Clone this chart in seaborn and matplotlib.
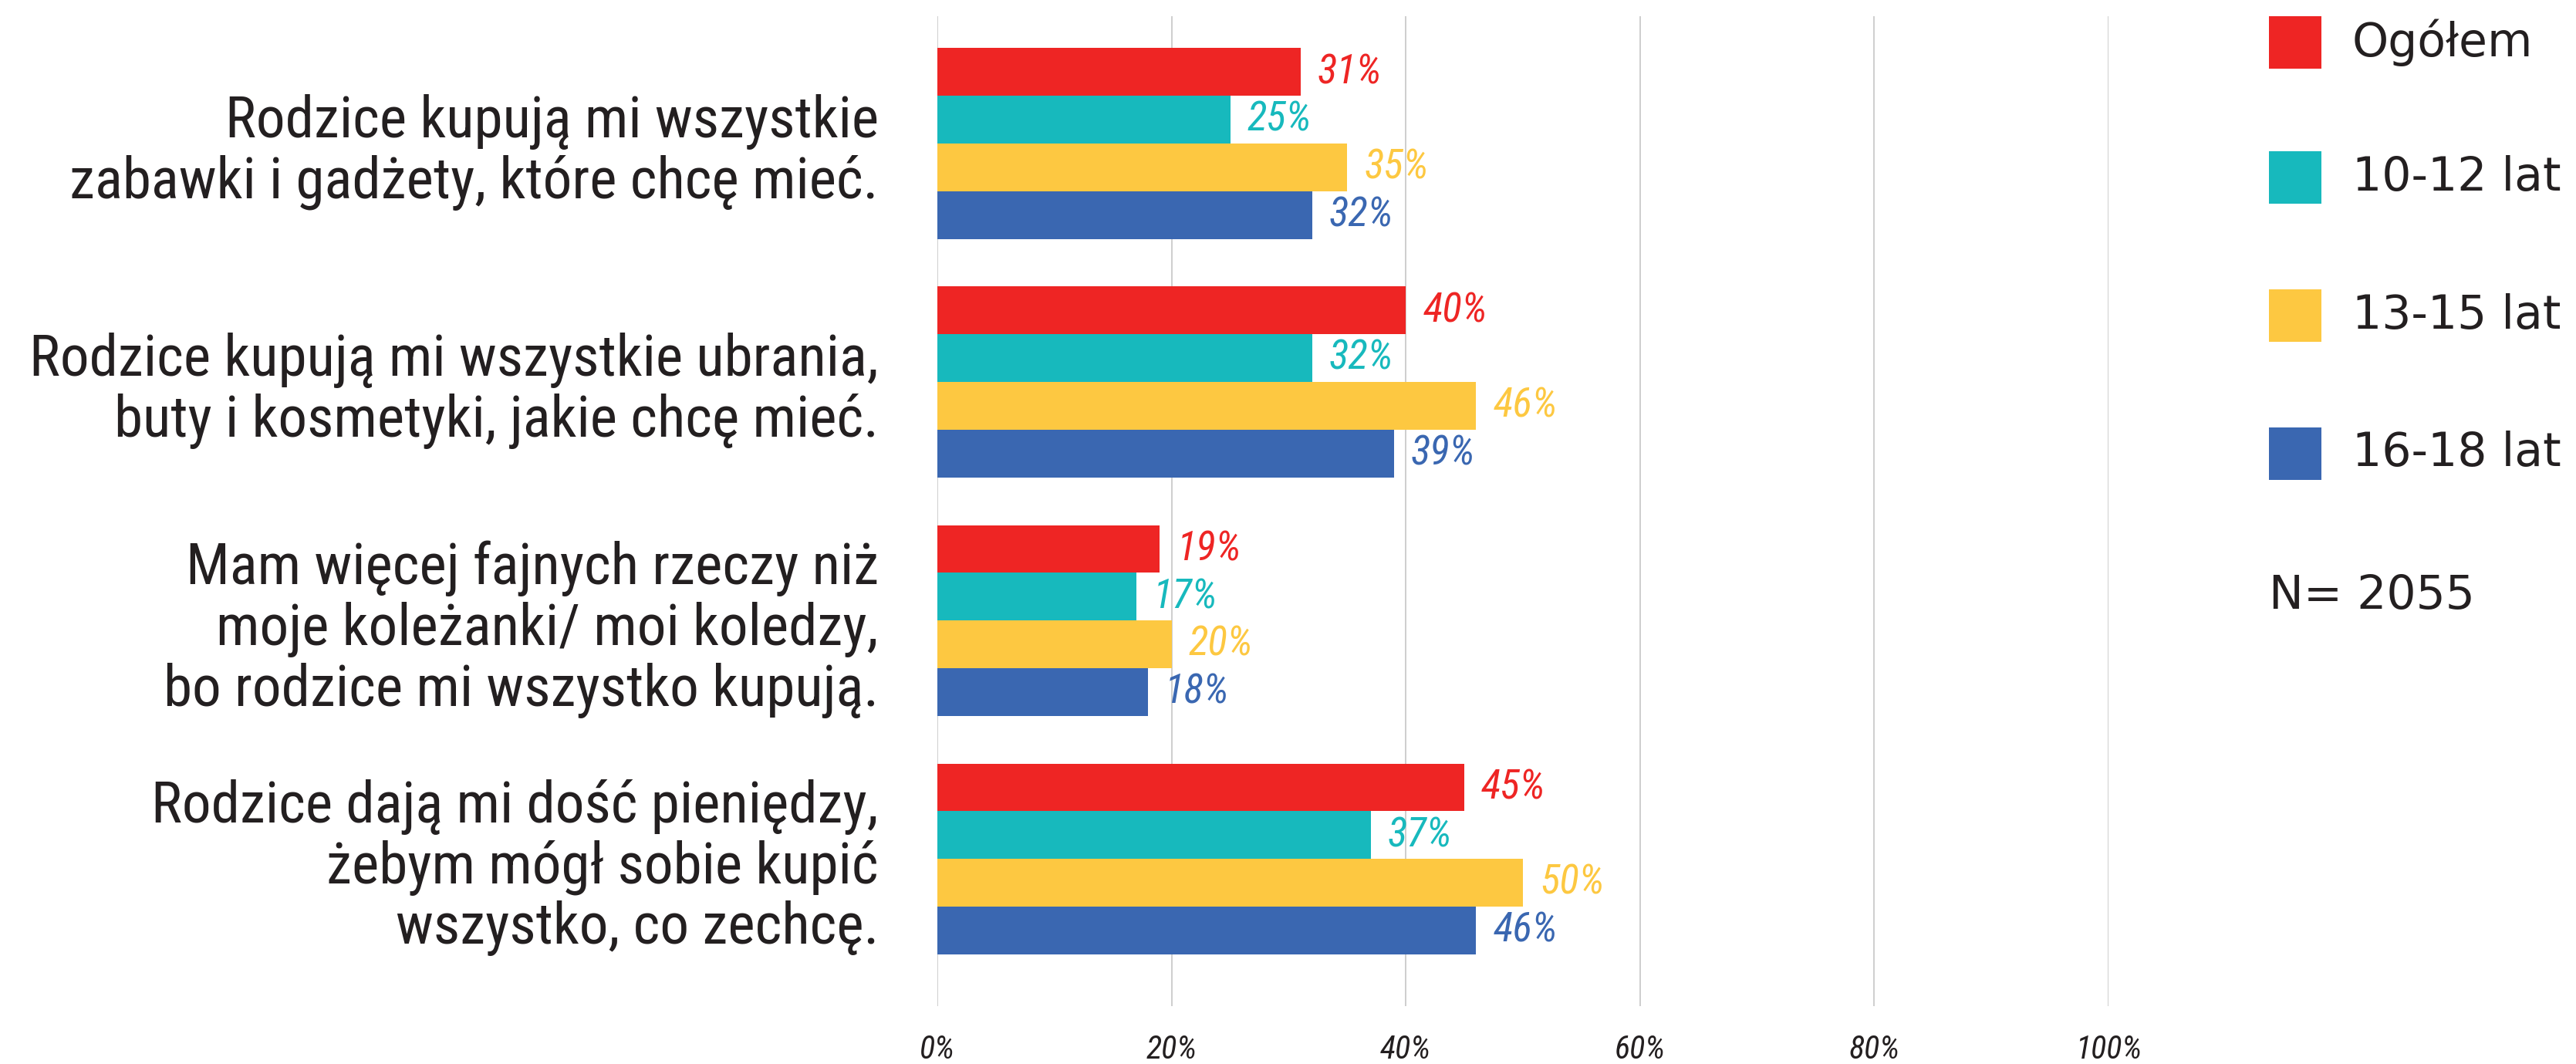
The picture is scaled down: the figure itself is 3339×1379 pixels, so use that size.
import matplotlib
matplotlib.use("Agg")
import matplotlib.pyplot as plt
from matplotlib import font_manager
from matplotlib.patches import Rectangle
import seaborn as sns
import pandas as pd

# --- data -------------------------------------------------------------
questions = [
    "Rodzice kupują mi wszystkie\nzabawki i gadżety, które chcę mieć.",
    "Rodzice kupują mi wszystkie ubrania,\nbuty i kosmetyki, jakie chcę mieć.",
    "Mam więcej fajnych rzeczy niż\nmoje koleżanki/ moi koledzy,\nbo rodzice mi wszystko kupują.",
    "Rodzice dają mi dość pieniędzy,\nżebym mógł sobie kupić\nwszystko, co zechcę.",
]
groups = ["Ogółem", "10-12 lat", "13-15 lat", "16-18 lat"]
ogolem = [31, 40, 19, 45]
lat_10_12 = [25, 32, 17, 37]
lat_13_15 = [35, 46, 20, 50]
lat_16_18 = [32, 39, 18, 46]
x_ticks = [0, 20, 40, 60, 80, 100]
x_tick_labels = ["0%", "20%", "40%", "60%", "80%", "100%"]
sample_note = "N= 2055"

colors = ["#EE2524", "#17B9BD", "#FDC841", "#3A67B1"]
text_color = "#231F20"

series = [ogolem, lat_10_12, lat_13_15, lat_16_18]
df = pd.DataFrame(
    [(q, g, v) for g, vals in zip(groups, series) for q, v in zip(questions, vals)],
    columns=["question", "group", "value"],
)


def pick_font(*names):
    available = {f.name for f in font_manager.fontManager.ttflist}
    for n in names:
        if n in available:
            return n
    return "DejaVu Sans"


narrow = pick_font("Liberation Sans Narrow", "Roboto Condensed", "Open Sans Condensed",
                   "Noto Sans", "Open Sans")
wide = "DejaVu Sans"

sns.set_theme(style="white")
plt.rcParams["font.family"] = [narrow, "DejaVu Sans"]

W, H, DPI = 3339, 1379, 100
PT = 72 / DPI  # points per pixel
fig = plt.figure(figsize=(W / DPI, H / DPI), dpi=DPI)
fig.patch.set_facecolor("white")

ax_left, ax_right, ax_top, ax_bottom = 1215, 2733, 21, 1304
ax = fig.add_axes([ax_left / W, 1 - ax_bottom / H,
                   (ax_right - ax_left) / W, (ax_bottom - ax_top) / H])

sns.barplot(data=df, x="value", y="question", hue="group", palette=colors,
            orient="h", width=0.8, saturation=1, linewidth=0, ax=ax,
            legend=False, errorbar=None)

ax.set_xlim(0, 100)
ax.set_ylim(3.617, -0.534)
ax.set_xticks(x_ticks)
ax.set_xticklabels(x_tick_labels, fontsize=42 * PT, style="italic", color=text_color)
ax.xaxis.grid(True, color="#C4C4C4", linewidth=1.6 * PT)
ax.yaxis.grid(False)
ax.set_axisbelow(True)
for s in ax.spines.values():
    s.set_visible(False)
ax.tick_params(axis="x", length=0, pad=36 * PT)
ax.tick_params(axis="y", length=0, pad=76 * PT)
ax.set_xlabel("")
ax.set_ylabel("")

# question labels: size them so the widest line spans the left margin
cat_size = 70 * PT
for lab in ax.get_yticklabels():
    lab.set_fontsize(cat_size)
    lab.set_color(text_color)
    lab.set_multialignment("right")
    lab.set_linespacing(1.12)
fig.canvas.draw()
renderer = fig.canvas.get_renderer()
widest = max(l.get_window_extent(renderer).width for l in ax.get_yticklabels())
scale = 1101 / widest
for lab in ax.get_yticklabels():
    lab.set_fontsize(cat_size * scale)

# value labels at the end of each bar
for cont, col, vals in zip(ax.containers, colors, series):
    ax.bar_label(cont, labels=[f"{v}%" for v in vals], padding=22 * PT,
                 color=col, fontsize=53 * PT, style="italic")

# legend: colour squares with group names, then the sample size
sq = 68
leg_x = 2941
row_centers = [55, 230, 409, 588]
for name, col, cy in zip(groups, colors, row_centers):
    fig.add_artist(Rectangle((leg_x / W, 1 - (cy + sq / 2) / H), sq / W, sq / H,
                             transform=fig.transFigure, facecolor=col,
                             edgecolor="none"))
    fig.text(3049 / W, 1 - cy / H, name, fontsize=60 * PT, family=wide,
             color=text_color, va="center", ha="left")
fig.text(leg_x / W, 1 - 773 / H, sample_note, fontsize=60 * PT, family=wide,
         color=text_color, va="center", ha="left")

fig.savefig("out.png", dpi=DPI, facecolor="white")
